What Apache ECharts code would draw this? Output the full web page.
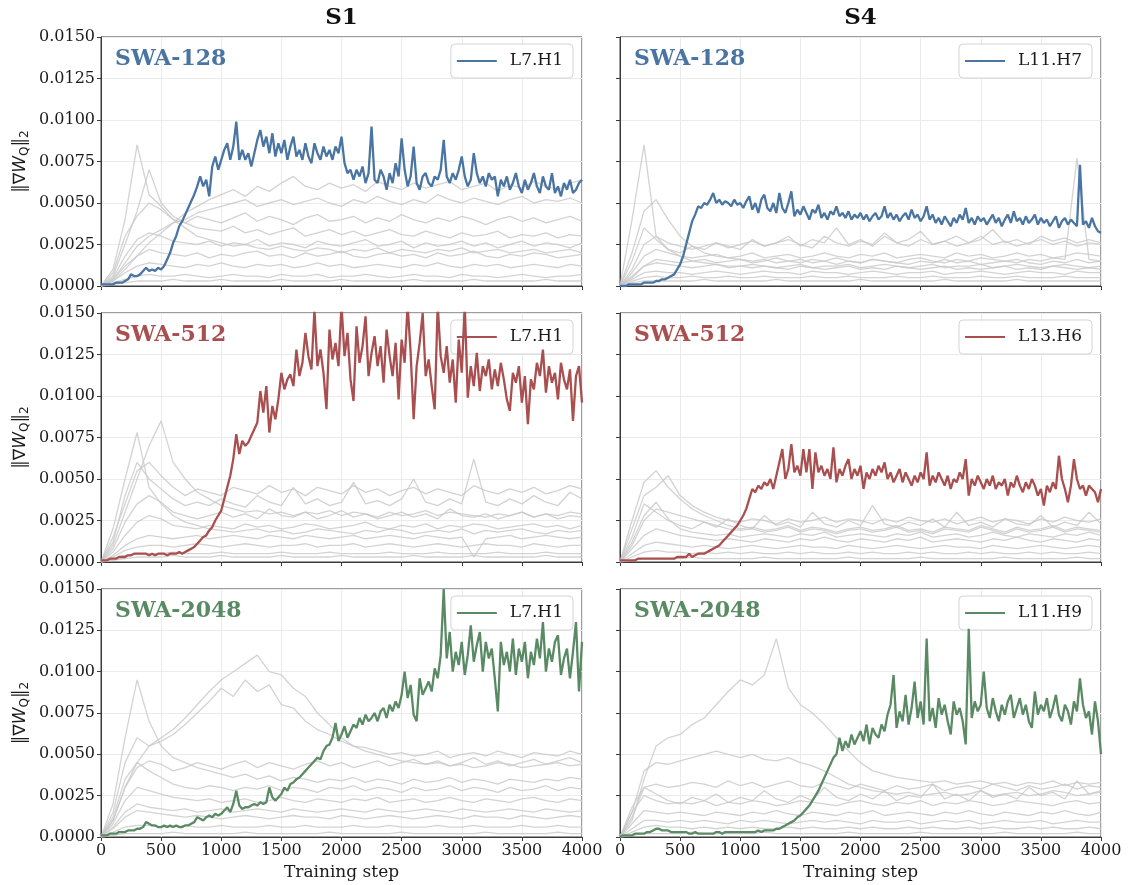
<!DOCTYPE html>
<html>
<head>
<meta charset="utf-8">
<script src="https://cdn.jsdelivr.net/npm/echarts@6/dist/echarts.min.js"></script>
<style>html,body{margin:0;padding:0;background:#fff;}#chart{width:1128px;height:885px;}</style>
</head>
<body>
<div id="chart"></div>
<script>
// All gradient-norm values are stored in units of 1e-4.
const UNIT = 1e-4;
const HI_STEP = 25;   // highlighted head sampled every 25 steps (0..4000)
const BG_STEP = 100;  // background heads sampled every 100 steps (0..4000)

const COLUMN_TITLES = ['S1', 'S4'];
const ROW_LABELS = ['SWA-128', 'SWA-512', 'SWA-2048'];
const HEAD_NAMES = [['L7.H1', 'L11.H7'], ['L7.H1', 'L13.H6'], ['L7.H1', 'L11.H9']];

// ---------- highlighted heads ----------
const S1_128_HI = [
1,1,1,1,1,2,2,2,3,4,7,6,6,7,9,11,9,10,9,11,
10,12,16,20,26,30,36,39,43,47,51,55,60,66,60,64,54,72,78,70,
76,82,86,76,84,99,76,82,76,80,72,80,88,94,84,90,80,92,78,86,
80,88,76,84,90,78,82,76,86,78,74,86,80,76,84,78,82,76,84,80,
90,74,68,70,64,70,66,72,62,68,96,64,62,70,66,58,68,62,74,66,
89,70,60,66,84,62,58,66,68,62,60,66,64,70,88,66,62,68,64,70,
78,66,60,64,80,68,62,66,60,68,64,66,54,64,60,66,58,62,68,60,
56,64,58,62,68,60,56,66,60,58,68,56,60,54,62,58,64,56,58,62,
64];
const S4_128_HI = [
0,0,0,1,1,1,1,1,2,2,2,2,3,3,4,4,5,6,7,10,
13,18,25,32,39,43,48,47,50,49,52,56,50,52,49,51,50,48,52,49,
50,47,51,54,46,50,44,52,55,47,45,50,44,56,47,44,50,57,42,46,
43,48,44,40,46,44,49,41,44,40,45,43,48,42,44,41,45,40,43,41,
44,40,43,39,42,44,40,42,48,41,44,40,43,39,42,44,40,46,41,43,
39,42,48,40,43,38,41,37,42,39,36,41,38,43,40,47,38,41,37,42,
39,41,37,40,43,38,41,36,40,43,38,45,39,41,37,42,38,40,43,37,
41,38,40,36,39,42,35,39,41,37,40,38,36,73,37,39,35,41,36,33,
32];
const S1_512_HI = [
1,1,1,2,2,2,3,3,3,4,4,5,5,5,5,5,4,5,4,5,
5,5,4,5,5,5,6,5,6,7,8,9,11,13,15,16,19,21,25,28,
31,38,45,52,62,77,65,73,70,72,76,80,84,103,90,106,78,94,86,98,
114,104,110,113,106,128,112,120,138,124,116,152,118,128,114,92,140,122,132,118,
155,124,138,110,97,142,120,130,148,112,126,136,118,130,108,140,124,112,132,98,
134,120,155,126,86,118,132,150,112,122,106,92,155,124,114,130,108,122,96,134,
114,155,99,118,106,126,103,118,112,122,104,116,106,120,110,98,91,114,108,118,
96,112,83,110,104,120,112,128,102,118,108,114,98,120,110,104,116,85,112,118,
96];
const S4_512_HI = [
1,1,1,1,1,1,2,2,2,2,2,2,2,2,2,2,2,2,2,3,
3,3,3,5,3,4,5,5,5,6,7,8,9,10,12,14,16,18,20,22,
25,28,32,38,44,42,46,44,48,46,50,44,52,60,68,50,56,71,54,58,
52,68,54,68,44,66,54,58,52,56,50,69,48,56,52,58,62,50,56,52,
58,44,54,50,56,52,58,54,60,50,54,48,52,56,48,54,50,46,52,48,
54,50,66,46,52,48,54,50,46,52,44,50,48,54,50,62,40,50,46,52,
48,44,50,46,52,44,48,46,50,40,48,45,52,46,42,48,44,50,46,40,
44,34,46,42,48,44,64,50,44,36,46,62,50,44,46,40,46,44,42,36,
44];
const S1_2048_HI = [
1,1,1,2,2,2,3,3,3,4,4,4,5,5,6,9,8,7,7,6,
6,7,6,7,6,7,6,6,7,7,8,9,12,11,10,12,13,12,14,13,
14,16,18,15,20,28,19,17,18,18,19,20,19,21,20,21,30,24,22,24,
26,30,28,32,33,35,36,38,40,42,44,46,48,47,52,55,56,60,69,58,
62,67,60,64,68,66,72,68,74,70,72,75,70,76,78,72,80,76,82,78,
86,100,84,92,74,70,96,86,90,94,88,102,96,110,150,108,124,100,112,104,
118,98,110,128,106,116,124,100,118,108,114,96,76,118,104,112,100,120,98,114,
106,118,96,112,104,120,108,130,100,114,106,118,122,98,108,114,96,112,130,88,
118];
const S4_2048_HI = [
0,1,1,1,1,2,2,2,2,3,3,4,5,5,4,4,4,3,3,3,
3,3,3,2,2,3,2,2,2,2,2,2,3,3,2,3,3,3,3,3,
3,3,3,3,3,3,4,3,4,4,4,4,5,5,6,7,8,9,10,12,
13,15,17,19,22,25,28,32,36,40,44,48,50,60,52,58,54,62,56,60,
64,58,68,56,66,62,60,68,64,74,80,98,66,76,70,86,68,78,94,72,
82,68,120,70,78,66,84,74,80,70,62,82,74,78,70,56,126,72,82,76,
80,100,78,72,84,76,70,80,74,82,86,72,78,84,74,80,70,66,88,74,
80,76,84,72,78,86,74,70,80,76,68,82,76,96,80,72,76,62,82,70,
50];

// ---------- background heads (gray) ----------
const S1_128_BG = [
[0,6,25,45,70,50,42,38,35,34,33,36,32,34,31,33,35,30,32,34,31,33,30,32,34,31,30,33,31,29,32,30,31,33,29,31,30,32,29,31,30],
[0,3,10,18,26,32,38,44,48,52,55,58,54,60,57,62,66,60,58,62,59,61,57,63,60,58,62,59,61,63,58,60,62,57,61,59,63,60,58,62,64],
[0,8,30,42,50,46,40,38,42,40,38,41,44,39,42,40,37,41,43,39,40,42,38,41,39,43,40,38,41,39,42,40,37,40,42,39,41,38,40,42,39],
[0,5,18,28,32,30,27,26,25,27,24,26,25,28,24,26,25,23,27,25,24,26,28,24,25,27,23,26,24,25,27,24,26,23,25,27,24,26,25,23,26],
[0,4,12,18,22,20,19,18,20,17,19,18,20,21,18,19,17,20,18,19,21,18,17,19,20,18,19,17,20,18,19,21,18,17,19,18,20,19,17,18,19],
[0,3,8,12,14,13,12,11,13,12,14,12,11,13,12,13,11,12,14,12,13,11,12,13,12,11,13,12,14,12,11,13,12,13,11,12,13,12,11,13,12],
[0,2,4,6,7,6,6,7,6,5,6,7,6,6,5,7,6,6,7,5,6,6,7,6,5,6,7,6,6,5,7,6,6,5,6,7,6,5,6,6,7],
[0,1,2,3,3,3,4,3,3,3,4,3,3,3,3,4,3,3,3,3,4,3,3,3,3,3,4,3,3,3,3,4,3,3,3,3,3,4,3,3,3],
[0,10,40,85,55,48,40,35,30,28,26,24,25,23,22,24,22,21,23,22,20,22,21,23,20,22,21,20,22,21,23,20,21,22,20,21,22,20,21,22,20],
[0,4,14,24,30,34,38,40,44,46,48,50,52,48,50,52,49,51,53,50,48,52,50,54,51,49,52,50,55,52,50,53,51,49,52,54,50,52,51,53,50]
];
const S4_128_BG = [
[0,40,85,30,22,18,15,14,13,12,12,11,12,11,10,12,11,10,11,12,10,11,10,12,11,10,11,12,10,11,10,11,12,10,11,10,12,11,10,11,10],
[0,20,45,52,40,30,24,20,18,17,16,15,16,14,15,16,14,15,13,15,14,16,15,14,13,15,14,16,14,15,13,14,15,16,14,13,15,14,16,14,15],
[0,10,25,30,26,24,22,24,26,23,25,27,24,26,28,25,23,30,26,24,27,25,32,26,24,28,25,27,24,26,30,25,27,24,26,28,25,27,24,26,25],
[0,8,18,22,20,18,17,18,19,17,18,20,17,18,19,17,18,20,18,17,19,18,20,17,18,19,18,17,20,18,19,17,18,20,18,19,17,18,20,19,18],
[0,6,12,14,13,12,11,12,13,11,12,13,12,11,12,13,11,12,12,13,11,12,13,12,11,12,13,11,12,12,13,11,12,13,12,11,12,13,12,11,12],
[0,4,8,9,8,8,7,8,9,8,7,8,9,8,8,7,9,8,8,7,8,9,8,7,8,8,9,7,8,8,9,8,7,8,9,8,8,7,9,8,8],
[0,3,5,6,5,5,6,5,5,6,5,5,6,5,5,5,6,5,5,6,5,5,5,6,5,5,6,5,5,5,6,5,5,6,5,5,5,6,5,5,5],
[0,2,3,3,3,3,3,4,3,3,3,3,3,4,3,3,3,3,3,3,4,3,3,3,3,3,3,4,3,3,3,3,3,4,3,3,3,3,3,3,3],
[0,5,12,16,15,14,15,16,14,15,16,14,15,17,15,14,16,15,17,15,14,16,15,14,16,17,15,14,16,15,17,16,15,14,16,15,17,16,77,16,15],
[0,15,35,28,22,20,24,22,26,24,22,28,24,26,30,24,28,26,35,25,28,24,30,26,28,33,25,27,30,26,28,34,26,28,25,30,27,29,26,28,26]
];
const S1_512_BG = [
[0,10,30,50,70,85,60,50,42,38,34,32,30,31,29,30,28,30,29,31,28,30,29,27,30,28,29,31,28,30,29,28,27,29,28,30,27,29,28,30,29],
[0,15,35,55,60,52,45,40,44,42,40,45,43,41,46,42,44,40,45,43,41,46,42,44,40,43,45,41,44,42,40,46,43,41,44,42,45,41,43,46,44],
[0,8,24,35,40,36,30,28,26,28,30,27,29,26,32,28,27,30,26,28,31,27,29,26,28,30,27,29,26,32,28,27,29,26,28,30,27,29,26,28,27],
[0,6,16,24,28,26,22,21,20,22,21,20,23,21,22,20,21,23,22,20,21,22,24,21,20,22,21,23,20,22,21,23,22,20,21,22,23,21,22,20,22],
[0,4,10,14,16,15,14,15,16,14,15,16,15,14,16,15,14,16,15,14,15,16,14,15,16,15,14,16,15,14,15,3,14,15,16,14,15,16,15,14,15],
[0,3,7,9,10,10,9,10,11,10,9,10,11,10,9,10,10,11,9,10,10,11,9,10,11,10,9,10,11,10,9,10,11,10,10,9,11,10,9,10,10],
[0,2,4,5,5,5,6,5,5,5,6,5,5,5,5,6,5,5,5,6,5,5,5,5,6,5,5,5,6,5,5,5,5,6,5,5,5,6,5,5,5],
[0,1,2,3,3,3,4,3,3,3,4,3,3,3,3,4,3,3,3,3,4,3,3,3,3,3,4,3,3,3,3,4,3,3,3,3,3,4,3,3,3],
[0,12,40,60,50,44,38,34,36,34,38,35,33,40,36,34,45,35,38,34,36,48,35,37,34,38,50,36,34,38,35,62,36,34,38,35,40,36,34,42,38],
[0,20,50,78,45,35,28,24,22,20,19,18,19,20,18,19,17,18,20,19,18,17,19,18,20,19,17,18,19,18,20,17,19,18,19,20,18,17,19,18,19]
];
const S4_512_BG = [
[0,25,48,55,45,38,32,28,25,22,20,21,19,20,22,19,21,20,18,20,21,19,20,22,19,20,18,21,20,19,22,20,18,21,19,20,22,19,21,20,19],
[0,20,40,45,52,40,34,30,27,25,24,26,25,23,26,24,25,27,24,26,25,23,26,24,27,25,24,26,23,25,27,24,26,25,23,26,24,27,25,24,26],
[0,10,25,32,30,28,26,24,22,20,19,20,18,19,21,18,20,19,17,19,20,18,19,21,18,19,17,20,19,18,21,19,17,20,18,19,21,18,20,19,18],
[0,8,16,20,18,16,15,14,13,14,13,12,14,13,12,14,13,15,13,12,14,13,12,14,13,15,12,13,14,13,12,14,13,15,13,12,14,13,12,14,13],
[0,5,10,12,11,10,9,10,9,8,9,10,9,8,9,10,9,9,8,10,9,8,9,10,9,8,9,10,9,9,8,10,9,8,9,10,9,8,9,10,9],
[0,3,6,7,6,6,5,6,5,6,5,6,5,5,6,5,6,5,5,6,5,6,5,5,6,5,6,5,5,6,5,6,5,5,6,5,6,5,5,6,5],
[0,1,2,2,2,2,3,2,2,2,2,2,3,2,2,2,2,2,2,3,2,2,2,2,2,3,2,2,2,2,2,2,3,2,2,2,2,2,3,2,2],
[0,15,35,30,25,22,20,24,21,26,22,20,28,22,24,21,30,23,21,25,22,34,23,21,24,22,26,21,30,22,24,21,26,23,22,28,21,24,22,30,23],
[0,12,28,36,26,20,18,17,16,17,15,16,17,16,15,17,16,18,15,16,17,16,15,17,16,18,15,16,17,15,16,18,16,15,17,16,15,17,16,18,16]
];
const S1_2048_BG = [
[0,10,30,45,55,60,65,72,80,88,95,100,105,110,100,98,90,85,75,68,60,55,52,50,48,46,45,44,45,43,44,42,43,45,44,42,43,44,45,43,44],
[0,15,45,60,55,58,62,68,75,82,90,85,95,88,92,80,78,70,65,62,58,55,54,52,50,51,49,50,52,48,50,51,49,52,50,48,51,50,49,52,50],
[0,20,60,95,70,55,48,45,42,40,38,36,38,35,37,34,36,35,33,35,34,36,33,35,34,32,35,33,34,36,33,35,34,32,35,34,33,35,34,36,35],
[0,12,35,45,40,36,32,30,29,31,30,28,30,29,31,28,30,29,27,30,29,31,28,30,29,27,30,28,29,31,28,30,29,27,30,28,29,31,28,30,29],
[0,8,22,30,28,26,24,23,22,23,21,22,23,21,22,24,22,21,23,22,21,23,22,24,21,22,23,21,22,24,22,21,23,22,21,23,24,22,21,23,22],
[0,5,12,16,15,14,13,12,13,12,11,12,13,12,11,12,13,12,12,11,13,12,11,12,13,12,11,12,13,12,11,13,12,12,11,13,12,11,12,13,12],
[0,3,6,7,7,6,6,7,6,6,7,6,6,6,7,6,6,7,6,6,6,7,6,6,7,6,6,6,7,6,6,7,6,6,6,7,6,6,7,6,6],
[0,1,2,2,2,2,3,2,2,2,2,2,3,2,2,2,2,2,2,3,2,2,2,2,2,3,2,2,2,2,2,2,3,2,2,2,2,2,3,2,2],
[0,10,30,42,46,44,40,42,45,43,41,44,46,42,45,43,41,44,46,43,45,42,44,46,43,45,47,44,46,43,45,48,44,46,43,45,47,44,46,48,45],
[0,6,15,20,18,17,16,17,15,16,17,15,16,17,16,15,17,16,15,16,17,16,15,17,16,15,16,17,16,15,17,16,15,16,17,16,15,17,16,15,16]
];
const S4_2048_BG = [
[0,10,35,55,60,62,68,72,80,88,95,92,98,120,90,80,75,68,60,52,45,40,38,36,35,34,33,34,32,33,34,32,33,31,33,32,34,31,33,32,33],
[0,15,40,45,44,46,48,50,52,50,48,50,47,46,48,45,43,40,36,32,30,28,27,26,27,25,26,27,25,26,28,25,26,27,25,26,28,27,25,26,27],
[0,12,30,32,30,31,33,32,30,34,31,33,30,32,34,31,30,33,31,29,32,30,28,31,29,30,32,28,30,31,29,32,30,28,31,29,30,32,29,31,30],
[0,15,25,22,20,21,20,22,19,21,20,22,21,19,20,22,21,20,19,21,22,20,19,21,20,22,19,21,20,22,21,19,20,22,21,20,19,21,22,20,21],
[0,8,16,15,14,15,14,13,15,14,13,15,14,16,14,13,15,14,13,15,14,16,13,14,15,14,13,15,14,16,14,13,15,14,13,15,14,16,14,13,15],
[0,5,10,10,9,10,9,10,9,8,10,9,10,9,8,9,10,9,10,9,8,10,9,9,10,8,9,10,9,10,8,9,10,9,9,10,8,9,10,9,9],
[0,3,6,7,6,6,5,6,5,6,5,6,5,5,6,5,6,5,5,6,5,6,5,5,6,5,6,5,5,6,5,6,5,5,6,5,6,5,5,6,5],
[0,18,30,26,22,20,24,22,26,21,24,22,28,23,21,25,22,30,24,22,26,23,28,22,25,24,32,23,26,22,28,24,26,23,30,25,27,23,34,26,28],
[0,1,2,2,2,2,3,2,2,2,2,2,3,2,2,2,2,2,2,3,2,2,2,2,2,3,2,2,2,2,2,2,3,2,2,2,2,2,3,2,2]
];

// ---------- styling / layout ----------
const ROW_COLORS = ['#4a75a2', '#a94f4f', '#5a8a64'];
const GRAY = 'rgba(200,200,200,0.8)';
const AX = '#3a3a3a';
const TXT = '#1a1a1a';
const SERIF = '"DejaVu Serif", "Liberation Serif", serif';
const COL_LEFT = [101, 620];
const PLOT_W = 481;
const ROW_TOP = [37, 313, 589];
const ROW_H = [249, 249, 248];
const LEGEND_RIGHT = [555, 36];

const HI = [[S1_128_HI, S4_128_HI], [S1_512_HI, S4_512_HI], [S1_2048_HI, S4_2048_HI]];
const BG = [[S1_128_BG, S4_128_BG], [S1_512_BG, S4_512_BG], [S1_2048_BG, S4_2048_BG]];

const grids = [], xAxes = [], yAxes = [], series = [], legends = [], graphics = [];

COLUMN_TITLES.forEach((t, c) => {
  graphics.push({type: 'text', x: COL_LEFT[c] + PLOT_W / 2, y: 18,
    style: {text: t, font: 'bold 23px ' + SERIF, fill: '#111', align: 'center', verticalAlign: 'middle', textAlign: 'center', textVerticalAlign: 'middle'}});
});

let k = 0;
for (let r = 0; r < 3; r++) {
  for (let c = 0; c < 2; c++) {
    const color = ROW_COLORS[r];
    grids.push({left: COL_LEFT[c], top: ROW_TOP[r], width: PLOT_W, height: ROW_H[r],
      show: true, borderColor: AX, borderWidth: 1, backgroundColor: 'transparent'});
    xAxes.push({type: 'value', gridIndex: k, min: 0, max: 4000, interval: 500,
      axisLine: {show: true, onZero: false, lineStyle: {color: AX, width: 1}},
      axisTick: {show: true, length: 4, lineStyle: {color: AX}},
      axisLabel: {show: r === 2, margin: 6, fontFamily: SERIF, fontSize: 16, color: TXT,
        formatter: v => String(v)},
      splitLine: {show: true, lineStyle: {color: '#ebebeb', width: 1}},
      name: r === 2 ? 'Training step' : '', nameLocation: 'middle', nameGap: 27,
      nameTextStyle: {fontFamily: SERIF, fontSize: 17, color: TXT}});
    yAxes.push({type: 'value', gridIndex: k, min: 0, max: 0.015, interval: 0.0025,
      axisLine: {show: true, onZero: false, lineStyle: {color: AX, width: 1}},
      axisTick: {show: true, length: 4, lineStyle: {color: AX}},
      axisLabel: {show: c === 0, margin: 6, fontFamily: SERIF, fontSize: 16, color: TXT,
        formatter: v => v.toFixed(4)},
      splitLine: {show: true, lineStyle: {color: '#ebebeb', width: 1}},
      name: c === 0 ? '{n|‖∇}{i|W}{s|Q}{n|‖}{s|2}' : '', nameLocation: 'middle', nameRotate: 90, nameGap: 70,
      nameTextStyle: {color: TXT, fontFamily: '"DejaVu Sans"', fontSize: 17,
        rich: {
          n: {fontFamily: '"DejaVu Sans"', fontSize: 17, color: TXT},
          i: {fontFamily: '"DejaVu Sans"', fontStyle: 'italic', fontSize: 17, color: TXT},
          s: {fontFamily: '"DejaVu Sans"', fontSize: 12, color: TXT, verticalAlign: 'bottom', padding: [8, 0, 0, 0]}
        }}});
    BG[r][c].forEach(arr => {
      series.push({type: 'line', xAxisIndex: k, yAxisIndex: k, silent: true, symbol: 'none',
        animation: false, z: 2, lineStyle: {color: GRAY, width: 1.3},
        data: arr.map((v, i) => [i * BG_STEP, v * UNIT])});
    });
    const sname = ROW_LABELS[r] + '-' + COLUMN_TITLES[c] + '|' + HEAD_NAMES[r][c];
    series.push({type: 'line', name: sname, xAxisIndex: k, yAxisIndex: k, symbol: 'none',
      animation: false, z: 4, clip: true, color: color, lineStyle: {color: color, width: 2.3},
      data: HI[r][c].map((v, i) => [i * HI_STEP, v * UNIT])});
    legends.push({data: [sname], right: LEGEND_RIGHT[c], top: ROW_TOP[r] + 7, selectedMode: false,
      formatter: n => n.split('|')[1], icon: 'rect', itemWidth: 40, itemHeight: 2,
      backgroundColor: 'rgba(255,255,255,0.85)', borderColor: '#d4d4d4', borderWidth: 1, borderRadius: 4,
      padding: [8, 10, 8, 6],
      textStyle: {fontFamily: SERIF, fontSize: 17, color: TXT, padding: [0, 0, 0, 8], lineHeight: 18}});
    graphics.push({type: 'text', x: COL_LEFT[c] + 14, y: ROW_TOP[r] + 22,
      style: {text: ROW_LABELS[r], font: 'bold 22px ' + SERIF, fill: color, align: 'left', verticalAlign: 'middle', textAlign: 'left', textVerticalAlign: 'middle'}, z: 10});
    k++;
  }
}

const chart = echarts.init(document.getElementById('chart'), null, {renderer: 'canvas'});
chart.setOption({
  backgroundColor: '#ffffff',
  animation: false,
  grid: grids, xAxis: xAxes, yAxis: yAxes, series: series, legend: legends, graphic: graphics
});
</script>
</body>
</html>
